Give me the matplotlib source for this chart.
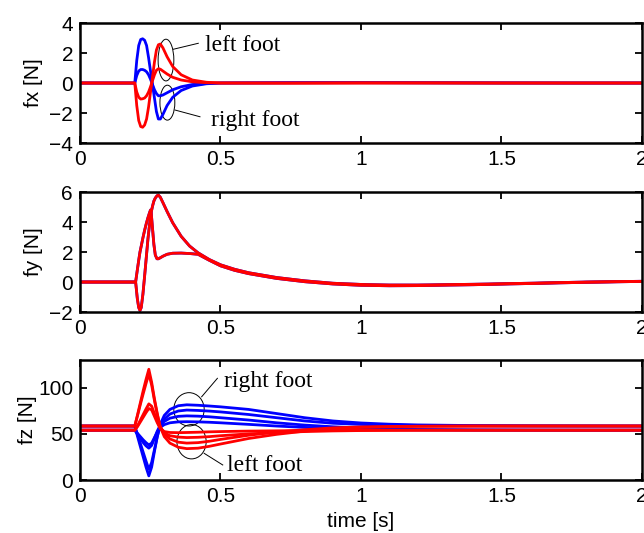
import matplotlib
matplotlib.use('Agg')
from matplotlib import pyplot as plt
from matplotlib.patches import Ellipse

plt.rcParams['font.family'] = ['Liberation Sans', 'DejaVu Sans']

# fx [N]
t_fx = [0, 0.195, 0.202, 0.209, 0.216, 0.223, 0.230, 0.237, 0.244, 0.251, 0.258, 0.265, 0.272, 0.279,
        0.286, 0.295, 0.31, 0.33, 0.36, 0.40, 0.45, 0.50, 0.75, 1.0, 1.25, 1.5, 1.75, 2.0]
fx_blue = [
    [0, 0, 1.5, 2.5, 2.9, 2.95, 2.85, 2.5, 1.7, 0.8, -0.1, -1.0, -1.9, -2.4,
     -2.4, -2.1, -1.5, -0.95, -0.5, -0.2, -0.05, 0, 0.02, 0.03, 0.02, 0.01, 0, 0],
    [0, 0, 0.5, 0.8, 0.9, 0.9, 0.85, 0.75, 0.55, 0.25, -0.1, -0.45, -0.7, -0.85,
     -0.85, -0.8, -0.65, -0.45, -0.25, -0.1, -0.03, 0, 0.02, 0.02, 0.01, 0, 0, 0],
]
fx_red = [
    [0, 0, -1.5, -2.5, -2.9, -2.95, -2.8, -2.4, -1.6, -0.6, 0.4, 1.4, 2.2, 2.55,
     2.6, 2.35, 1.75, 1.1, 0.55, 0.2, 0.05, 0, -0.01, 0, 0.01, 0, 0, 0],
    [0, 0, -0.6, -0.95, -1.07, -1.05, -1.0, -0.85, -0.6, -0.25, 0.15, 0.55, 0.85, 0.95,
     0.92, 0.8, 0.6, 0.38, 0.2, 0.08, 0.02, 0, 0, 0.01, 0, 0, 0, 0],
]

# fy [N]
t_fy = [0, 0.198, 0.204, 0.209, 0.2135, 0.218, 0.224, 0.230, 0.236, 0.242,
        0.248, 0.251, 0.254, 0.258, 0.263, 0.268, 0.274, 0.279, 0.286, 0.295,
        0.31, 0.33, 0.36, 0.39, 0.42, 0.46, 0.50, 0.55, 0.60, 0.70,
        0.80, 0.90, 1.00, 1.10, 1.20, 1.40, 1.60, 1.80, 2.00]
fy_curves = [
    [0, 0, -1.1, -1.7, -1.9, -1.7, -0.8, 0.4, 1.65, 2.9,
     3.9, 4.35, 4.7, 5.05, 5.4, 5.6, 5.75, 5.8, 5.65, 5.3,
     4.7, 3.95, 3.05, 2.4, 1.95, 1.5, 1.15, 0.85, 0.62, 0.3,
     0.08, -0.08, -0.16, -0.2, -0.2, -0.15, -0.08, 0.0, 0.05],
    [0, 0, 0.8, 1.45, 2.0, 2.4, 2.95, 3.45, 3.9, 4.3,
     4.65, 4.8, 4.5, 3.6, 2.5, 1.8, 1.55, 1.55, 1.62, 1.72,
     1.85, 1.92, 1.93, 1.9, 1.85, 1.45, 1.08, 0.78, 0.56, 0.24,
     0.02, -0.13, -0.22, -0.25, -0.24, -0.18, -0.1, -0.02, 0.04],
]

# fz [N]
t_fz = [0, 0.195, 0.205, 0.215, 0.225, 0.235, 0.245, 0.255, 0.265, 0.275, 0.285,
        0.30, 0.32, 0.35, 0.38, 0.42, 0.46, 0.50, 0.60, 0.70, 0.80, 0.90, 1.00,
        1.10, 1.20, 1.40, 1.60, 1.80, 2.00]
fz_blue = [
    [58.5, 58.5, 47, 36, 25, 14, 4.5, 14, 31, 47, 60, 70, 76.5, 80.5, 81.5, 81, 80.2, 79.3,
     76.5, 72, 67.5, 64, 61.8, 60.5, 59.7, 59, 58.7, 58.6, 58.5],
    [58.5, 58.5, 49, 39.5, 30, 20.5, 11.5, 19, 33, 47, 58, 66, 71.5, 74.8, 75.8, 75.4, 74.7, 73.8,
     71, 67.5, 64, 61.5, 60.2, 59.5, 59.1, 58.8, 58.6, 58.5, 58.5],
    [54, 54, 49.5, 45, 40.5, 37, 34.5, 37.5, 45, 53, 59, 63.5, 67, 69, 69.5, 69.2, 68.5, 67.5,
     65, 62, 59.5, 57.7, 56.3, 55.4, 54.8, 54.3, 54.1, 54, 54],
    [54, 54, 50.5, 47, 43.5, 40.5, 38, 40, 46, 52, 57, 60, 62, 63, 63.2, 63, 62.6, 62,
     60.3, 58.5, 57, 55.9, 55.1, 54.6, 54.3, 54.1, 54, 54, 54],
]
fz_red = [
    [58.5, 58.5, 71, 84, 97, 109, 120, 106, 88, 72, 58, 47, 40, 35.5, 34, 34.5, 36.5, 39,
     45, 49.5, 53, 55.5, 57, 57.7, 58.1, 58.4, 58.5, 58.5, 58.5],
    [58.5, 58.5, 70, 82, 93.5, 104.5, 115, 103, 86, 71, 58.5, 50, 44.5, 41, 40, 40.5, 42, 44,
     48.5, 52, 54.5, 56.5, 57.5, 58, 58.3, 58.5, 58.5, 58.5, 58.5],
    [54, 54, 59, 65, 71, 77, 82.5, 80, 72, 64, 57, 51, 48, 46.5, 46, 46.3, 47, 48,
     50, 51.5, 52.5, 53.2, 53.6, 53.8, 54, 54, 54, 54, 54],
    [54, 54, 58, 63, 68, 73, 77.5, 76, 69, 62, 56, 52.5, 51.5, 51.3, 51.5, 51.8, 52.2, 52.5,
     53, 53.3, 53.6, 53.8, 54, 54, 54, 54, 54, 54, 54],
]

xticks = [0, 0.5, 1, 1.5, 2]
xticklabels = ['0', '0.5', '1', '1.5', '2']

fig = plt.figure(figsize=(6.44, 5.33), dpi=100)
ax1 = fig.add_axes([0.1242, 0.7317, 0.8727, 0.2251])
ax2 = fig.add_axes([0.1242, 0.4146, 0.8727, 0.2251])
ax3 = fig.add_axes([0.1242, 0.0994, 0.8727, 0.2251])

for y in fx_blue:
    ax1.plot(t_fx, y, color='#0000ff', lw=2)
for y in fx_red:
    ax1.plot(t_fx, y, color='#ff0000', lw=2)
for y in fy_curves:
    ax2.plot(t_fy, y, color='#0000ff', lw=2)
for y in fy_curves:
    ax2.plot(t_fy, y, color='#ff0000', lw=2)
for y in fz_blue:
    ax3.plot(t_fz, y, color='#0000ff', lw=2)
for y in fz_red:
    ax3.plot(t_fz, y, color='#ff0000', lw=2)

ax1.set_ylim(-4, 4)
ax1.set_yticks([-4, -2, 0, 2, 4])
ax2.set_ylim(-2, 6)
ax2.set_yticks([-2, 0, 2, 4, 6])
ax3.set_ylim(0, 130)
ax3.set_yticks([0, 50, 100])

for ax in (ax1, ax2, ax3):
    ax.set_xlim(0, 2)
    ax.set_xticks(xticks)
    ax.set_xticklabels(xticklabels)
    ax.tick_params(direction='in', top=True, right=True, length=5, width=1.3,
                   labelsize=15, pad=5)
    for s in ax.spines.values():
        s.set_linewidth(1.8)

ax1.set_ylabel('fx [N]', fontsize=15)
ax1.yaxis.set_label_coords(-0.066, 0.5)
ax2.set_ylabel('fy [N]', fontsize=15)
ax2.yaxis.set_label_coords(-0.066, 0.5)
ax3.set_ylabel('fz [N]', fontsize=15)
ax3.yaxis.set_label_coords(-0.077, 0.5)
ax3.set_xlabel('time [s]', fontsize=15)
ax3.xaxis.set_label_coords(0.5, -0.27)

serif = dict(family='Liberation Serif', fontsize=17, ha='left', va='center')

# fx annotations
ax1.add_patch(Ellipse((0.306, 1.53), 0.056, 2.78, fill=False, lw=0.7, color='k'))
ax1.add_patch(Ellipse((0.311, -1.31), 0.053, 2.33, fill=False, lw=0.7, color='k'))
ax1.plot([0.332, 0.421], [2.25, 2.65], color='k', lw=0.7)
ax1.plot([0.338, 0.427], [-1.8, -2.25], color='k', lw=0.7)
ax1.text(0.445, 2.53, 'left foot', **serif)
ax1.text(0.466, -2.47, 'right foot', **serif)

# fz annotations
ax3.add_patch(Ellipse((0.388, 76.6), 0.108, 36.1, fill=False, lw=0.7, color='k'))
ax3.add_patch(Ellipse((0.397, 41.5), 0.104, 37.2, fill=False, lw=0.7, color='k'))
ax3.plot([0.433, 0.489], [90.2, 110.2], color='k', lw=0.7)
ax3.plot([0.442, 0.508], [28.9, 16.3], color='k', lw=0.7)
ax3.text(0.512, 106.5, 'right foot', **serif)
ax3.text(0.522, 15.2, 'left foot', **serif)

fig.savefig('out.png', dpi=100)
